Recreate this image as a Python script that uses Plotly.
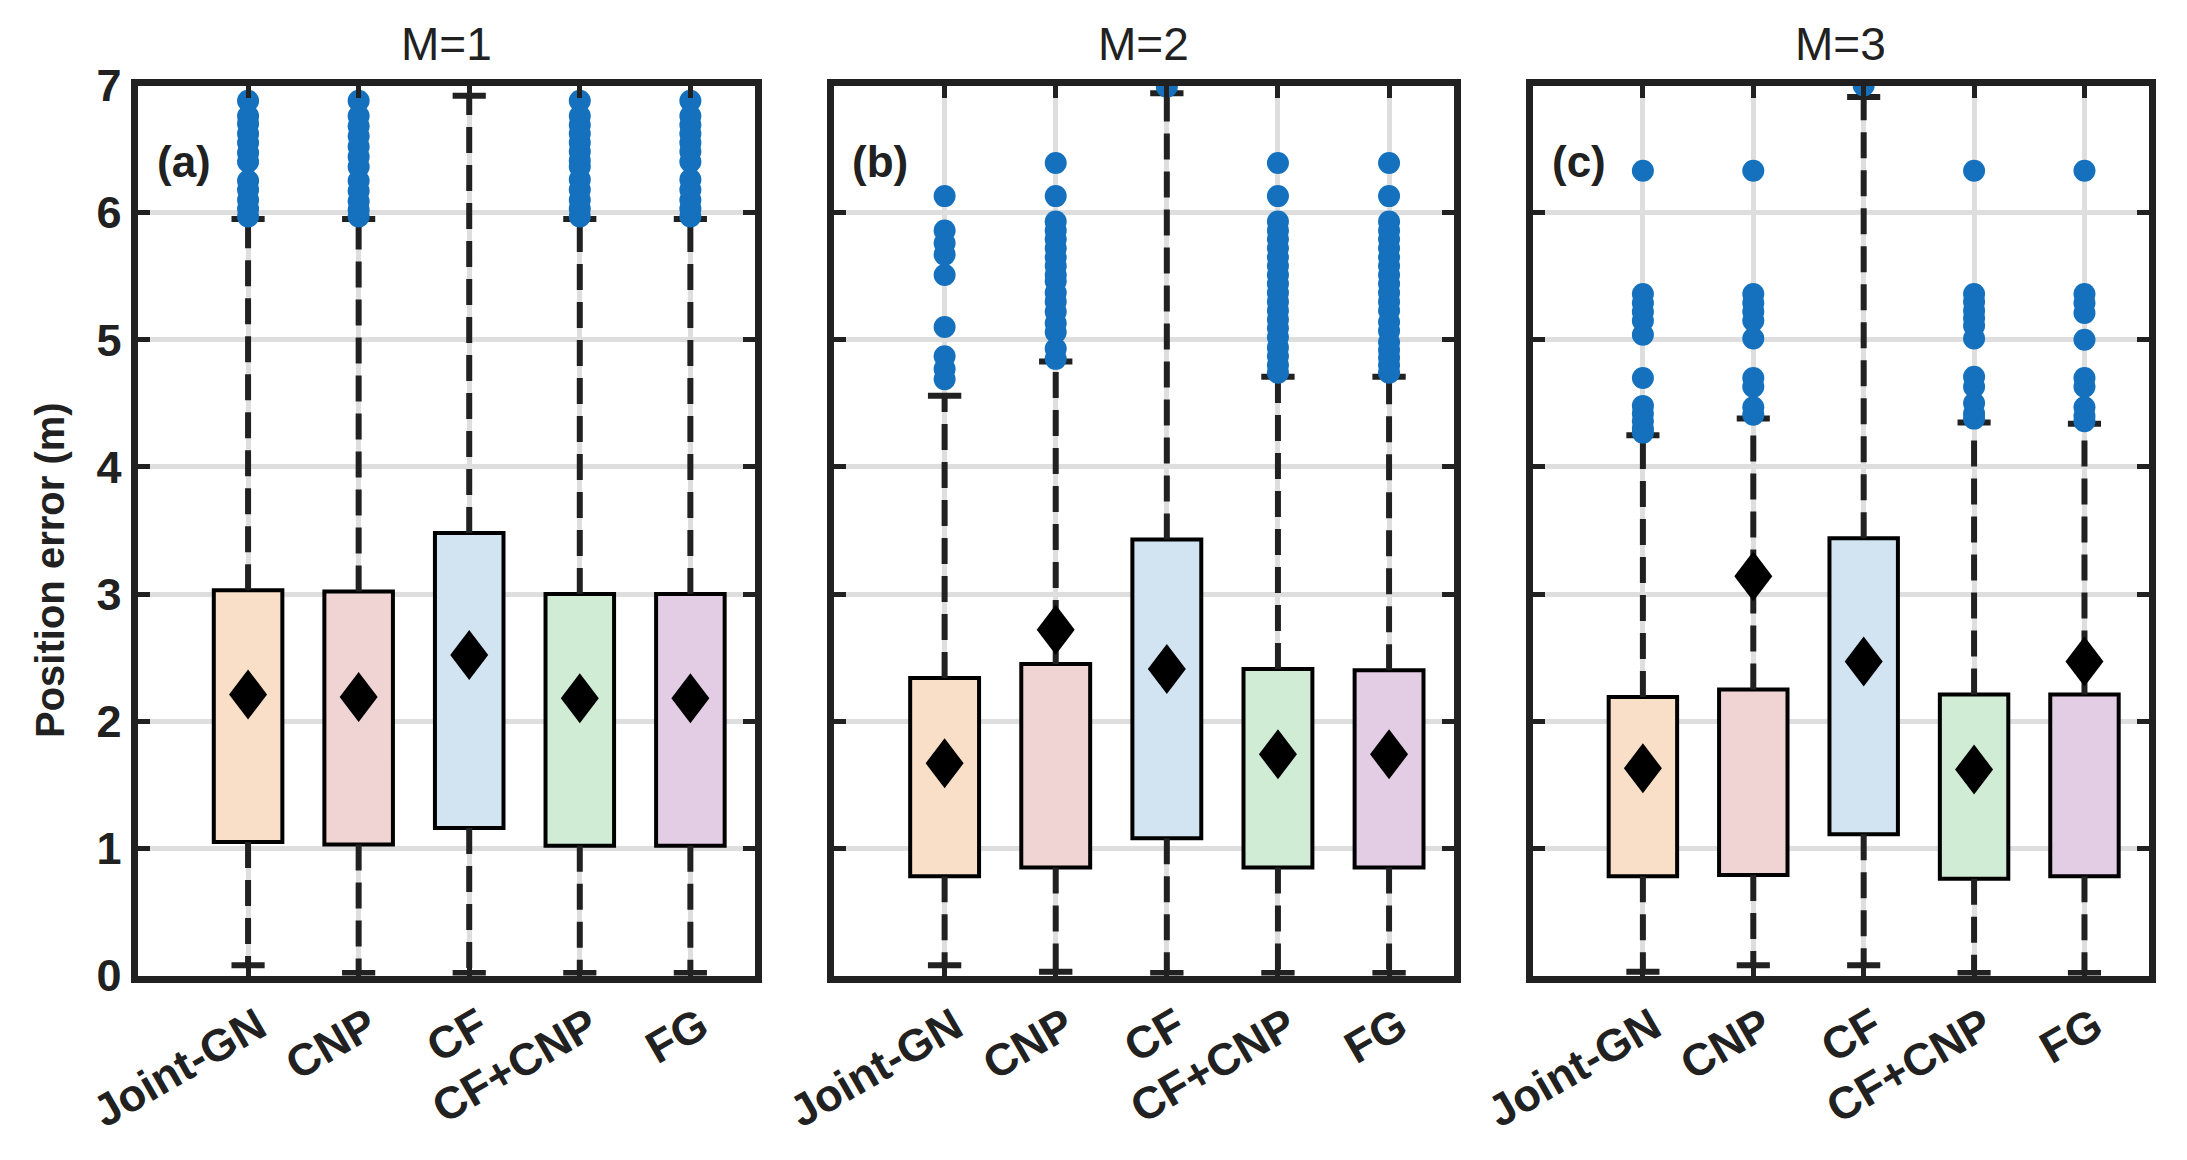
import plotly.graph_objects as go

W, H = 2187, 1160
OFF = 8  # default page body margin of the html page

# ---------------- data ----------------
methods = ["Joint-GN", "CNP", "CF", "CF+CNP", "FG"]
positions = [1, 2, 3, 4, 5]
titles = ["M=1", "M=2", "M=3"]
panel_tags = ["(a)", "(b)", "(c)"]

# M=1
m1_q1 = [1.05, 1.03, 1.16, 1.02, 1.02]
m1_q3 = [3.03, 3.02, 3.48, 3.00, 3.00]
m1_mean = [2.21, 2.19, 2.52, 2.18, 2.18]
m1_low = [0.08, 0.02, 0.02, 0.02, 0.02]
m1_high = [5.95, 5.95, 6.92, 5.95, 5.95]
m1_outliers = [
    [6.88, 6.76, 6.70, 6.62, 6.55, 6.47, 6.40, 6.25, 6.18, 6.10, 6.03, 5.97],
    [6.88, 6.76, 6.68, 6.60, 6.52, 6.44, 6.36, 6.25, 6.17, 6.09, 6.02, 5.97],
    [],
    [6.88, 6.76, 6.69, 6.62, 6.55, 6.48, 6.41, 6.36, 6.26, 6.18, 6.10, 6.03, 5.97],
    [6.88, 6.76, 6.69, 6.62, 6.55, 6.48, 6.40, 6.26, 6.18, 6.10, 6.03, 5.97],
]

# M=2
m2_q1 = [0.78, 0.85, 1.08, 0.85, 0.85]
m2_q3 = [2.34, 2.45, 3.43, 2.41, 2.40]
m2_mean = [1.67, 2.72, 2.41, 1.74, 1.74]
m2_low = [0.08, 0.03, 0.02, 0.02, 0.02]
m2_high = [4.56, 4.83, 6.94, 4.71, 4.71]
m2_outliers = [
    [6.13, 5.86, 5.76, 5.67, 5.51, 5.10, 4.87, 4.77, 4.69],
    [6.39, 6.13, 5.93, 5.86, 5.79, 5.72, 5.65, 5.58, 5.51, 5.46, 5.37, 5.30,
     5.22, 5.13, 5.06, 4.93, 4.85],
    [6.99],
    [6.39, 6.13, 5.93, 5.86, 5.79, 5.72, 5.65, 5.58, 5.51, 5.44, 5.37, 5.30,
     5.23, 5.16, 5.09, 5.02, 4.94, 4.87, 4.80, 4.74],
    [6.39, 6.13, 5.93, 5.86, 5.79, 5.72, 5.65, 5.58, 5.51, 5.44, 5.37, 5.30,
     5.23, 5.14, 5.07, 4.98, 4.92, 4.86, 4.80, 4.74],
]

# M=3
m3_q1 = [0.78, 0.79, 1.11, 0.76, 0.78]
m3_q3 = [2.19, 2.25, 3.44, 2.21, 2.21]
m3_mean = [1.63, 3.14, 2.47, 1.62, 2.47]
m3_low = [0.03, 0.08, 0.08, 0.02, 0.02]
m3_high = [4.25, 4.38, 6.91, 4.35, 4.34]
m3_outliers = [
    [6.33, 5.36, 5.29, 5.22, 5.15, 5.04, 4.70, 4.48, 4.42, 4.36, 4.30, 4.27],
    [6.33, 5.36, 5.29, 5.22, 5.15, 5.01, 4.70, 4.63, 4.47, 4.41],
    [7.00],
    [6.33, 5.36, 5.30, 5.23, 5.17, 5.11, 5.01, 4.71, 4.63, 4.50, 4.42, 4.38],
    [6.33, 5.36, 5.29, 5.21, 5.00, 4.70, 4.63, 4.47, 4.40, 4.36],
]

panels = [
    (m1_q1, m1_q3, m1_mean, m1_low, m1_high, m1_outliers),
    (m2_q1, m2_q3, m2_mean, m2_low, m2_high, m2_outliers),
    (m3_q1, m3_q3, m3_mean, m3_low, m3_high, m3_outliers),
]

# ---------------- style ----------------
box_colors = ["#FADFC8", "#F0D4D3", "#D2E4F2", "#D0ECD4", "#E2CDE4"]
dot_color = "#1571BE"
frame_color = "#212121"
grid_color = "#DEDEDE"
FONT = "Liberation Sans, Arial, Helvetica, sans-serif"
box_half = 0.31
cap_half = 0.15

# axes frames on screen (centre of frame lines), shifted for page margin
x_px = [(137.5 - OFF, 754.5 - OFF), (833.5 - OFF, 1453.5 - OFF), (1532.5 - OFF, 2148.5 - OFF)]
y_px = (85.5 - OFF, 975.5 - OFF)

fig = go.Figure()
shapes = []
annotations = []

for i, (q1, q3, mean, low, high, outl) in enumerate(panels):
    xa = "x" if i == 0 else f"x{i+1}"
    ya = "y" if i == 0 else f"y{i+1}"

    # whiskers (dashed)
    wx, wy = [], []
    for p, a, b, lo, hi in zip(positions, q1, q3, low, high):
        wx += [p, p, None, p, p, None]
        wy += [b, hi, None, a, lo, None]
    fig.add_trace(go.Scatter(x=wx, y=wy, mode="lines", xaxis=xa, yaxis=ya,
                             line=dict(color=frame_color, width=6, dash="26px,12px"),
                             showlegend=False, hoverinfo="skip"))
    # caps
    cx, cy = [], []
    for p, lo, hi in zip(positions, low, high):
        cx += [p - cap_half, p + cap_half, None, p - cap_half, p + cap_half, None]
        cy += [hi, hi, None, lo, lo, None]
    fig.add_trace(go.Scatter(x=cx, y=cy, mode="lines", xaxis=xa, yaxis=ya,
                             line=dict(color=frame_color, width=6),
                             showlegend=False, hoverinfo="skip"))
    # boxes
    fig.add_trace(go.Bar(x=positions, y=[b - a for a, b in zip(q1, q3)], base=q1,
                         width=2 * box_half, xaxis=xa, yaxis=ya,
                         marker=dict(color=box_colors, line=dict(color="#000000", width=4)),
                         showlegend=False, hoverinfo="skip"))
    # outliers
    ox, oy = [], []
    for p, vals in zip(positions, outl):
        ox += [p] * len(vals)
        oy += vals
    fig.add_trace(go.Scatter(x=ox, y=oy, mode="markers", xaxis=xa, yaxis=ya,
                             marker=dict(color=dot_color, size=22, line=dict(width=0)),
                             showlegend=False, hoverinfo="skip"))
    # means (diamonds, pixel-sized shapes anchored on data)
    for p, m in zip(positions, mean):
        shapes.append(dict(type="path", xref=xa, yref=ya, xsizemode="pixel",
                           ysizemode="pixel", xanchor=p, yanchor=m,
                           path="M -19,0 L 0,25 L 19,0 L 0,-25 Z",
                           fillcolor="#000000", line=dict(width=0), layer="above"))

    dom = [x_px[i][0] / W, x_px[i][1] / W]
    ydom = [(H - y_px[1]) / H, (H - y_px[0]) / H]
    axis_common = dict(showline=True, linewidth=7, linecolor=frame_color, mirror="ticks",
                       ticks="inside", ticklen=12, tickwidth=5, tickcolor=frame_color,
                       showgrid=True, gridcolor=grid_color, gridwidth=5, zeroline=False,
                       automargin=False,
                       tickfont=dict(family=FONT, size=45, color=frame_color, weight="bold"))
    fig.layout[("xaxis" if i == 0 else f"xaxis{i+1}")] = dict(
        domain=dom, anchor=ya, range=[0, 5.58], tickmode="array",
        tickvals=positions, ticktext=methods, tickangle=-30, ticklabelshift=10,
        **axis_common)
    fig.layout[("yaxis" if i == 0 else f"yaxis{i+1}")] = dict(
        domain=ydom, anchor=xa, range=[0, 7], tickmode="array",
        tickvals=list(range(0, 8)), showticklabels=(i == 0), **axis_common)

    annotations.append(dict(x=(x_px[i][0] + x_px[i][1]) / 2 / W, y=(H - (44 - OFF)) / H,
                            xref="paper", yref="paper", text=titles[i], showarrow=False,
                            xanchor="center", yanchor="middle",
                            font=dict(family=FONT, size=46, color=frame_color)))
    annotations.append(dict(x=0.42, y=6.4, xref=xa, yref=ya, text=panel_tags[i],
                            showarrow=False, xanchor="center", yanchor="middle",
                            font=dict(family=FONT, size=44, color=frame_color,
                                      weight="bold")))

annotations.append(dict(x=(50 - OFF) / W, y=(H - (570 - OFF)) / H, xref="paper", yref="paper",
                        text="Position error (m)", textangle=-90, showarrow=False,
                        xanchor="center", yanchor="middle",
                        font=dict(family=FONT, size=40, color=frame_color, weight="bold")))

fig.update_layout(width=W, height=H, margin=dict(l=0, r=0, t=0, b=0, autoexpand=False),
                  paper_bgcolor="white", plot_bgcolor="white", barmode="overlay",
                  shapes=shapes, annotations=annotations, showlegend=False)

fig.write_html("out.html")
